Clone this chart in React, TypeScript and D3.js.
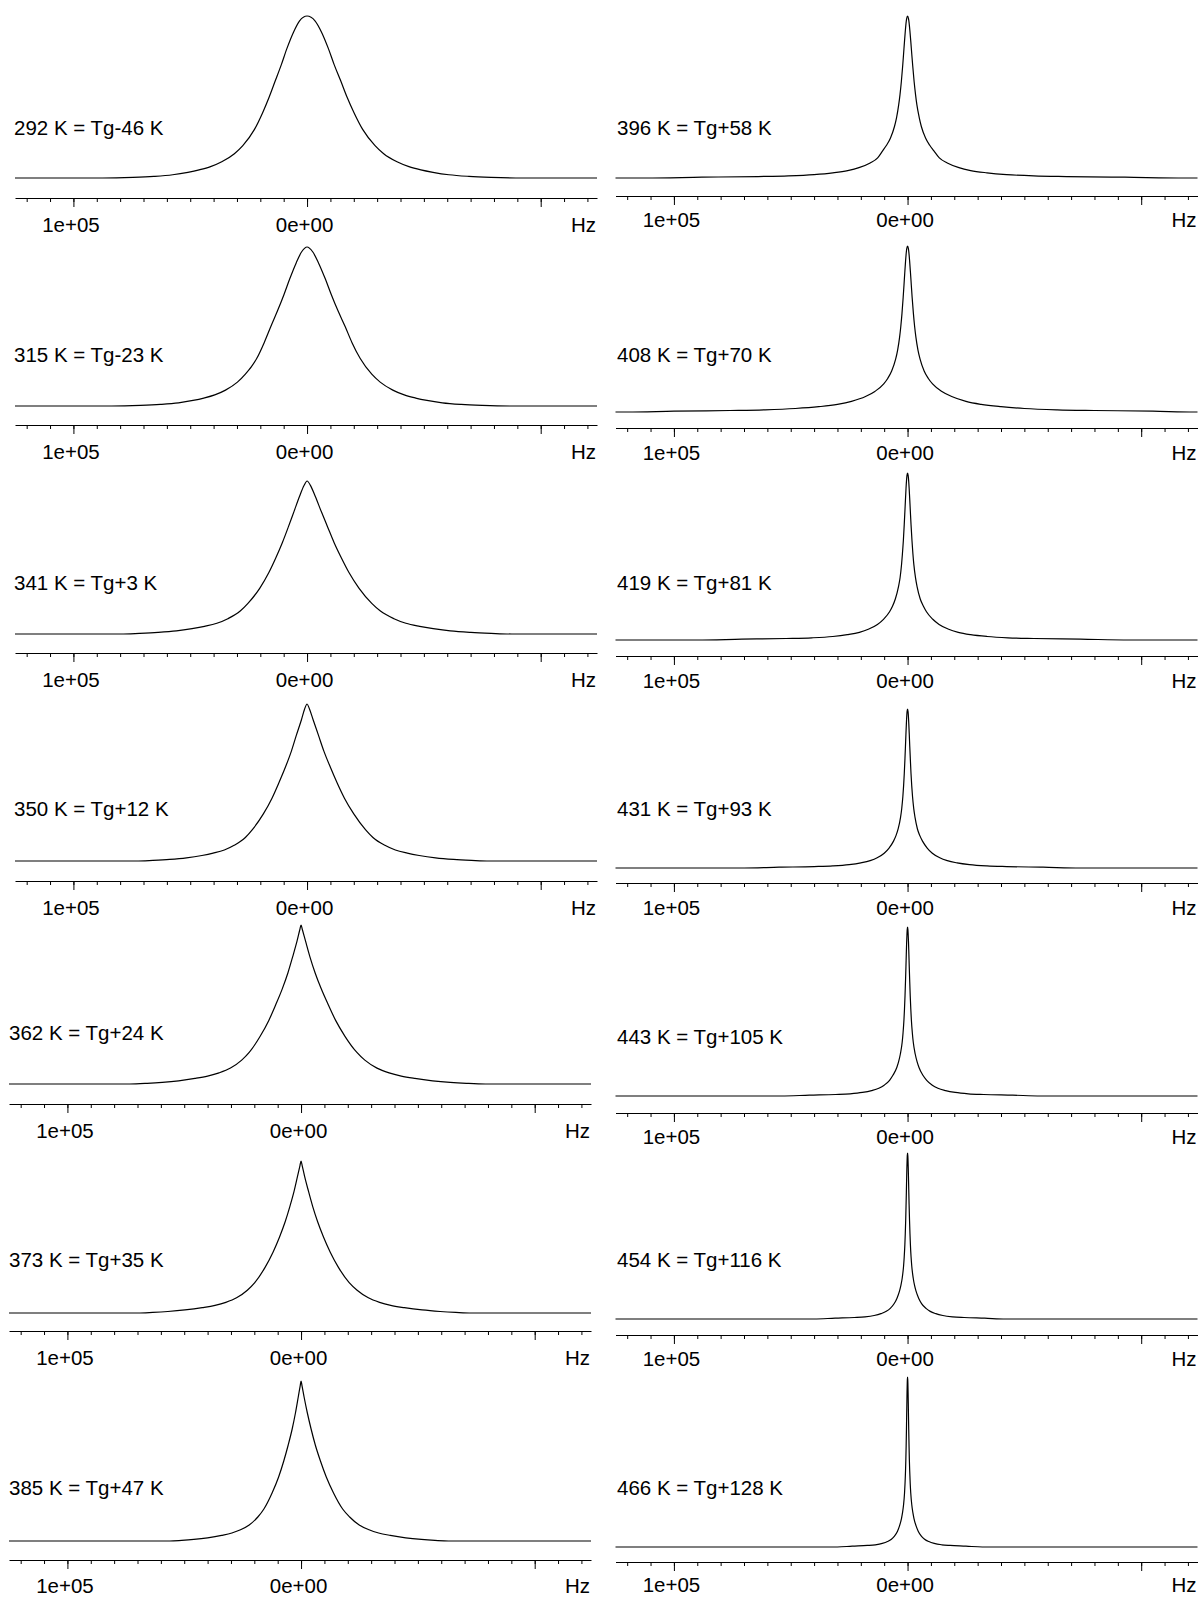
import React, { useEffect, useRef } from "react";
import * as d3 from "d3";

// Glass transition temperature used in the panel labels (K)
const TG = 338;
const temperatures = [292, 315, 341, 350, 362, 373, 385, 396, 408, 419, 431, 443, 454, 466];

// Relative intensity levels (peak maximum = 1) at which half-widths are listed
const levelsBroad = [0.97, 0.9, 0.8, 0.7, 0.6, 0.5, 0.4, 0.3, 0.2, 0.15, 0.1, 0.07, 0.05, 0.035, 0.02, 0.01, 0.004, 0];
const levelsNarrow = [0.984, 0.965, 0.909, 0.839, 0.764, 0.691, 0.594, 0.515, 0.451, 0.373, 0.318, 0.247, 0.202, 0.169, 0.124, 0.093, 0.064, 0.046, 0.032, 0.021, 0.013, 0.009, 0.005, 0];

// Half-widths in kHz at each level: "pos" = +Hz side (left), "neg" = -Hz side (right)
const w292pos = [3.2, 5.8, 8.6, 11.0, 13.6, 16.2, 19.1, 22.5, 27.5, 31.1, 36.5, 41.3, 46.2, 51, 57.5, 65.6, 74.5, 87.5];
const w292neg = [3.4, 6.2, 9.1, 11.6, 14.4, 17.1, 20.2, 23.8, 29.1, 32.8, 38.5, 43.6, 48.7, 53.9, 60.7, 69.3, 78.7, 92.3];
const w315pos = [2.3, 4.65, 7.4, 9.9, 12.6, 15.5, 18.3, 21.5, 26.4, 29.8, 34.9, 39.5, 44.2, 48.8, 55, 62.8, 71.3, 83.7];
const w315neg = [2.4, 4.9, 7.8, 10.4, 13.2, 16.3, 19.2, 22.7, 27.7, 31.3, 36.7, 41.6, 46.5, 51.3, 57.9, 66, 75, 88];
const w341pos = [1.3, 3.2, 5.6, 8.0, 10.5, 13.3, 16.4, 20.2, 25.3, 28.6, 33.9, 38.6, 43.9, 49.2, 55.9, 63.8, 71.8, 79.8];
const w341neg = [1.5, 3.5, 6.1, 8.8, 11.5, 14.6, 18.0, 22.2, 27.7, 31.4, 37.2, 42.3, 48.2, 54, 61.3, 70.1, 78.8, 87.6];
const w350pos = [1.0, 2.4, 4.6, 6.7, 9.2, 12, 15, 18.7, 23.4, 26.4, 31.2, 35.4, 40.2, 45, 51.6, 58.8, 66, 73.2];
const w350neg = [1.0, 2.6, 4.9, 7.2, 9.9, 12.8, 16, 20, 25, 28.2, 33.3, 37.8, 42.9, 48, 55, 62.7, 70.4, 78.1];
const w362pos = [0.54, 1.7, 3.6, 5.6, 8.0, 10.8, 13.8, 17.5, 22.1, 25.4, 30.2, 35.1, 40, 45.4, 52.4, 59.4, 65.9, 73.4];
const w362neg = [0.58, 1.9, 3.8, 6.0, 8.6, 11.6, 14.8, 18.8, 23.8, 27.3, 32.5, 37.7, 42.9, 48.7, 56.3, 63.8, 70.8, 78.9];
const w373pos = [0.46, 1.5, 3.0, 4.8, 6.8, 9.2, 12, 15.4, 19.8, 23, 27.6, 32.2, 36.8, 42.3, 49.7, 57, 63.5, 69.9];
const w373neg = [0.48, 1.5, 3.2, 5.0, 7.1, 9.6, 12.5, 16, 20.6, 24, 28.8, 33.6, 38.4, 44.2, 51.8, 59.5, 66.2, 73];
const w385pos = [0.37, 1.2, 2.4, 3.8, 5.5, 7.4, 9.6, 12.4, 15.9, 18.5, 22.2, 25.9, 29.6, 34, 40, 45.9, 51.1, 56.2];
const w385neg = [0.42, 1.3, 2.7, 4.3, 6.1, 8.3, 10.8, 13.9, 17.8, 20.8, 24.9, 29.1, 33.2, 38.2, 44.8, 51.5, 57.3, 63.1];

const w396pos = [0.38, 0.57, 0.95, 1.33, 1.71, 2.09, 2.66, 3.23, 3.8, 4.7, 5.6, 7.3, 9.0, 10.6, 12.8, 16, 20.8, 25.6, 32, 40, 51, 64, 88, 112];
const w396neg = [0.4, 0.6, 1.0, 1.41, 1.81, 2.22, 2.82, 3.42, 4.0, 5.0, 5.9, 7.7, 9.5, 11.2, 13.6, 17, 22, 27, 34, 42.4, 54, 68, 93, 119];
const w408pos = [0.34, 0.51, 0.85, 1.19, 1.53, 1.87, 2.38, 2.89, 3.4, 4.25, 5.1, 6.8, 8.5, 10.2, 14, 18, 24, 30, 38, 48, 61, 76, 100, 120];
const w408neg = [0.36, 0.54, 0.89, 1.25, 1.61, 1.96, 2.5, 3.03, 3.57, 4.46, 5.36, 7.1, 8.9, 10.7, 14.7, 18.9, 25, 31.5, 40, 50, 64, 80, 105, 123];
const w419pos = [0.26, 0.39, 0.65, 0.9, 1.16, 1.42, 1.8, 2.2, 2.58, 3.2, 3.9, 5.2, 6.45, 7.7, 10.3, 12.9, 16.8, 20.6, 25.8, 32, 41, 52, 71, 90];
const w419neg = [0.27, 0.41, 0.68, 0.95, 1.22, 1.49, 1.9, 2.3, 2.7, 3.4, 4.1, 5.4, 6.8, 8.1, 10.8, 13.5, 17.6, 21.7, 27, 34, 43, 54, 74, 95];
const w431pos = [0.2, 0.3, 0.5, 0.7, 0.9, 1.1, 1.4, 1.7, 2, 2.5, 3, 4, 5, 6, 8, 10, 13, 16, 20, 25, 32, 40, 55, 70];
const w431neg = [0.21, 0.32, 0.53, 0.74, 0.95, 1.17, 1.48, 1.8, 2.12, 2.65, 3.2, 4.2, 5.3, 6.4, 8.5, 10.6, 13.8, 17, 21.2, 26.5, 34, 42.4, 58, 74];
const w443pos = [0.15, 0.23, 0.39, 0.54, 0.69, 0.85, 1.08, 1.31, 1.54, 1.93, 2.3, 3.1, 3.85, 4.6, 6.2, 7.7, 10, 12.3, 15.4, 19.3, 24.6, 30.8, 42, 54];
const w443neg = [0.16, 0.24, 0.41, 0.57, 0.73, 0.9, 1.14, 1.39, 1.63, 2.05, 2.45, 3.3, 4.1, 4.9, 6.5, 8.2, 10.6, 13, 16.3, 20.4, 26, 32.6, 45, 57];
const w454pos = [0.11, 0.17, 0.29, 0.4, 0.51, 0.63, 0.8, 0.97, 1.14, 1.43, 1.71, 2.28, 2.85, 3.42, 4.56, 5.7, 7.4, 9.1, 11.4, 14.3, 18.2, 22.8, 31, 40];
const w454neg = [0.12, 0.18, 0.3, 0.42, 0.54, 0.66, 0.85, 1.03, 1.21, 1.51, 1.81, 2.42, 3.0, 3.6, 4.8, 6.0, 7.9, 9.7, 12.1, 15.1, 19.3, 24.2, 33, 42];
const w466pos = [0.086, 0.13, 0.22, 0.3, 0.39, 0.47, 0.6, 0.73, 0.86, 1.08, 1.29, 1.72, 2.15, 2.58, 3.44, 4.3, 5.6, 6.9, 8.6, 10.8, 13.8, 17.2, 23.7, 30];
const w466neg = [0.09, 0.14, 0.23, 0.32, 0.41, 0.5, 0.64, 0.77, 0.91, 1.14, 1.37, 1.82, 2.28, 2.73, 3.65, 4.56, 5.9, 7.3, 9.1, 11.4, 14.6, 18.2, 25, 32];

const widthsPos = [w292pos, w315pos, w341pos, w350pos, w362pos, w373pos, w385pos,
  w396pos, w408pos, w419pos, w431pos, w443pos, w454pos, w466pos];
const widthsNeg = [w292neg, w315neg, w341neg, w350neg, w362neg, w373neg, w385neg,
  w396neg, w408neg, w419neg, w431neg, w443neg, w454neg, w466neg];

// Axis ticks (Hz)
const majorTicks = [100000, 0, -100000];
const majorTickLabels = ["1e+05", "0e+00", ""];
const minorTicks = d3.range(-120000, 120001, 10000);
const axisUnit = "Hz";

// Panel placement on the page (px)
const panels = [
  { zero: 307, top: 16, base: 178, axis: 198, label: 128, lx: 14, pad: 10 },
  { zero: 307, top: 247, base: 406, axis: 425, label: 355, lx: 14, pad: 10 },
  { zero: 307, top: 481, base: 634, axis: 653, label: 583, lx: 14, pad: 10 },
  { zero: 307, top: 704, base: 861, axis: 881, label: 809, lx: 14, pad: 10 },
  { zero: 301, top: 925, base: 1084, axis: 1104, label: 1033, lx: 9, pad: 10 },
  { zero: 301, top: 1161, base: 1313, axis: 1331, label: 1260, lx: 9, pad: 10 },
  { zero: 301, top: 1381, base: 1541, axis: 1560, label: 1488, lx: 9, pad: 9 },
  { zero: 907.5, top: 16, base: 178, axis: 196, label: 128, lx: 617, pad: 7 },
  { zero: 907.5, top: 246, base: 412, axis: 428, label: 355, lx: 617, pad: 8 },
  { zero: 907.5, top: 473, base: 640, axis: 656, label: 583, lx: 617, pad: 8 },
  { zero: 907.5, top: 709, base: 868, axis: 883, label: 809, lx: 617, pad: 8 },
  { zero: 907.5, top: 927, base: 1096, axis: 1113, label: 1037, lx: 617, pad: 7 },
  { zero: 907.5, top: 1153, base: 1319, axis: 1335, label: 1260, lx: 617, pad: 7 },
  { zero: 907.5, top: 1377, base: 1547, axis: 1562, label: 1488, lx: 617, pad: 6 },
];

const FONT = "'Liberation Sans', Arial, Helvetica, sans-serif";
const FS = 20.5;

function tgLabel(t: number) {
  const d = t - TG;
  return `${t} K = Tg${d < 0 ? "-" : "+"}${Math.abs(d)} K`;
}

function Panel({ idx }: { idx: number }) {
  const p = panels[idx];
  const axisRef = useRef<SVGGElement>(null);

  const x = d3
    .scaleLinear()
    .domain([125000, -124100])
    .range([p.zero - 292, p.zero + 290]);
  const y = d3.scaleLinear().domain([0, 1]).range([p.base, p.top]);

  const levels = idx < 7 ? levelsBroad : levelsNarrow;
  const pos = widthsPos[idx];
  const neg = widthsNeg[idx];
  const pts: [number, number][] = [];
  pts.push([x.domain()[1], 0]);
  for (let i = levels.length - 1; i >= 0; i--) pts.push([-neg[i] * 1000, levels[i]]);
  pts.push([0, 1]);
  for (let i = 0; i < levels.length; i++) pts.push([pos[i] * 1000, levels[i]]);
  pts.push([x.domain()[0], 0]);
  pts.sort((a, b) => a[0] - b[0]);

  const line = d3
    .line<[number, number]>()
    .x((d) => x(d[0]))
    .y((d) => y(d[1]))
    .curve(d3.curveMonotoneX);

  useEffect(() => {
    const g = d3.select(axisRef.current);
    g.selectAll("*").remove();
    const minor = d3
      .axisBottom(x)
      .tickValues(minorTicks)
      .tickSize(4)
      .tickSizeOuter(0)
      .tickFormat(() => "");
    const major = d3
      .axisBottom(x)
      .tickValues(majorTicks)
      .tickSize(9)
      .tickSizeOuter(0)
      .tickPadding(p.pad)
      .tickFormat((_d, i) => majorTickLabels[i]);
    const gm = g.append("g").call(minor);
    gm.select(".domain").remove();
    const gM = g.append("g").call(major);
    g.selectAll("line").attr("stroke", "#000");
    g.selectAll(".domain").attr("stroke", "#000");
    gM.attr("font-size", FS).attr("font-family", FONT);
    gM.selectAll("text").attr("fill", "#000").attr("dx", -3);
    g.append("text")
      .attr("x", x.range()[1] - 1)
      .attr("y", 9 + p.pad)
      .attr("dy", "0.71em")
      .attr("text-anchor", "end")
      .attr("font-size", FS)
      .attr("font-family", FONT)
      .attr("fill", "#000")
      .text(axisUnit);
  }, [idx]);

  return (
    <g>
      <path d={line(pts) ?? ""} fill="none" stroke="#000" strokeWidth={1.2} />
      <g ref={axisRef} transform={`translate(0,${p.axis})`} />
      <text x={p.lx} y={p.label + 7} fontSize={FS} fontFamily={FONT} fill="#000">
        {tgLabel(temperatures[idx])}
      </text>
    </g>
  );
}

export default function App() {
  return (
    <svg
      width={1202}
      height={1598}
      style={{ position: "absolute", left: 0, top: 0, background: "#fff" }}
    >
      <rect width={1202} height={1598} fill="#fff" />
      {temperatures.map((t, i) => (
        <Panel key={t} idx={i} />
      ))}
    </svg>
  );
}
